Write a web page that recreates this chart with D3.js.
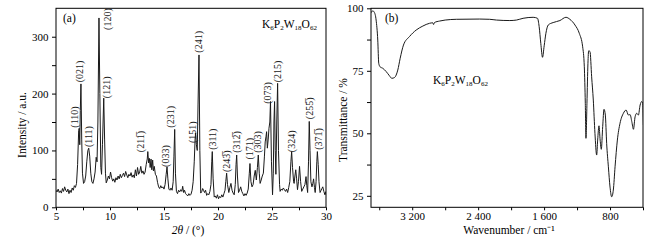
<!DOCTYPE html>
<html>
<head>
<meta charset="utf-8">
<script src="https://cdn.jsdelivr.net/npm/d3@7/dist/d3.min.js"></script>
<style>
body { margin: 0; background: #fff; }
svg { display: block; font-family: "Liberation Serif", "Times New Roman", serif; }
</style>
</head>
<body>
<svg></svg>
<script>
// XRD pattern: [2theta, intensity]
var xrdPoints = [
  [5.0,30],[5.1,27],[5.2,32],[5.3,26],[5.4,29],[5.5,25],[5.6,33],[5.7,28],[5.8,36],[5.9,30],
  [6.0,27],[6.1,32],[6.2,24],[6.3,30],[6.4,26],[6.5,34],[6.6,30],[6.7,38],[6.8,35],[6.9,42],
  [7.0,75],[7.1,135],[7.15,139],[7.2,110],[7.25,170],[7.31,217],[7.38,120],[7.45,60],[7.55,42],
  [7.65,45],[7.75,55],[7.85,80],[7.95,100],[8.03,104],[8.12,90],[8.22,60],[8.32,45],[8.42,42],
  [8.52,50],[8.62,62],[8.72,88],[8.8,80],[8.88,150],[8.98,333],[9.06,200],[9.15,70],[9.22,58],
  [9.3,110],[9.42,192],[9.5,120],[9.58,60],[9.65,43],[9.75,48],[9.85,55],[9.95,50],[10.05,62],
  [10.15,52],[10.25,46],[10.35,50],[10.45,44],[10.55,52],[10.65,48],[10.75,55],[10.85,50],
  [10.95,58],[11.05,52],[11.15,56],[11.25,60],[11.35,54],[11.45,63],[11.55,57],[11.65,52],
  [11.75,58],[11.85,55],[11.95,61],[12.05,53],[12.15,57],[12.25,52],[12.35,66],[12.45,55],
  [12.55,70],[12.65,58],[12.75,62],[12.85,72],[12.95,60],[13.05,64],[13.15,58],[13.25,62],
  [13.35,75],[13.45,85],[13.5,98],[13.58,78],[13.65,86],[13.72,70],[13.8,85],[13.87,66],
  [13.95,83],[14.02,64],[14.1,72],[14.2,58],[14.3,55],[14.4,44],[14.5,36],[14.6,33],[14.7,38],
  [14.8,34],[14.9,36],[15.0,32],[15.1,40],[15.2,58],[15.28,71],[15.36,50],[15.45,32],[15.55,30],
  [15.65,34],[15.75,30],[15.85,45],[15.92,90],[15.99,137],[16.06,60],[16.15,28],[16.25,24],
  [16.35,30],[16.45,27],[16.55,31],[16.65,28],[16.73,37],[16.82,26],[16.9,30],[17.0,24],
  [17.1,22],[17.2,20],[17.3,24],[17.4,21],[17.5,23],[17.6,30],[17.7,45],[17.8,80],[17.88,120],
  [17.93,131],[18.0,110],[18.08,100],[18.15,180],[18.24,268],[18.32,100],[18.4,25],[18.5,28],
  [18.58,33],[18.66,30],[18.75,26],[18.85,30],[18.95,21],[19.05,24],[19.15,22],[19.25,28],
  [19.35,40],[19.42,80],[19.47,98],[19.55,50],[19.65,18],[19.75,20],[19.85,16],[19.95,22],
  [20.05,15],[20.15,19],[20.25,17],[20.35,22],[20.45,18],[20.55,24],[20.65,30],[20.72,45],
  [20.8,60],[20.88,40],[21.0,26],[21.1,35],[21.2,42],[21.3,30],[21.4,25],[21.5,22],[21.6,40],
  [21.67,75],[21.73,92],[21.8,55],[21.9,26],[22.0,30],[22.1,36],[22.2,28],[22.3,24],[22.4,20],
  [22.5,24],[22.6,21],[22.7,25],[22.8,32],[22.9,60],[22.96,77],[23.05,45],[23.15,36],[23.25,40],
  [23.35,55],[23.45,65],[23.55,48],[23.65,70],[23.73,92],[23.82,60],[23.9,42],[24.0,48],
  [24.1,55],[24.2,60],[24.3,90],[24.37,115],[24.45,125],[24.5,133],[24.57,104],[24.65,120],
  [24.72,139],[24.8,150],[24.86,186],[24.95,80],[25.05,22],[25.12,60],[25.18,150],[25.24,186],
  [25.3,100],[25.36,58],[25.44,150],[25.52,218],[25.6,100],[25.7,40],[25.75,28],[25.85,32],
  [25.95,30],[26.05,34],[26.15,31],[26.25,28],[26.35,32],[26.45,26],[26.55,35],[26.65,45],
  [26.75,80],[26.82,98],[26.9,70],[27.0,45],[27.05,42],[27.12,55],[27.2,66],[27.28,50],
  [27.36,31],[27.45,45],[27.55,72],[27.65,45],[27.75,28],[27.85,32],[27.95,36],[28.05,40],
  [28.15,54],[28.22,38],[28.3,26],[28.38,80],[28.45,151],[28.52,100],[28.6,45],[28.7,36],
  [28.78,42],[28.85,50],[28.93,35],[29.0,26],[29.08,45],[29.15,80],[29.2,98],[29.28,75],
  [29.35,45],[29.45,26],[29.55,30],[29.62,33],[29.7,36],[29.8,28],[29.9,22],[30.0,28]
];

// peak labels: [text, 2theta, intensity at label foot]
var peakLabels = [
  ["(110)",6.67,140],["(021)",7.22,220],["(111)",7.99,106],["(120)",9.79,312],
  ["(121)",9.69,192],["(211\u0305)",12.84,97],["(033)",15.16,71],["(231)",15.56,140],
  ["(151)",17.62,113],["(241)",18.18,272],["(311)",19.47,101],["(243\u0305)",20.81,62],
  ["(312\u0305)",21.67,96],["(171)",22.9,84],["(303)",23.64,96],["(073)",24.56,182],
  ["(215)",25.49,220],["(324)",26.82,97],["(255\u0305)",28.43,155],["(371\u0305)",29.29,101]
];

var xrdTicks = [5, 10, 15, 20, 25, 30];
var xrdMinorTicks = [7.5, 12.5, 17.5, 22.5, 27.5];
var intensityTicks = [0, 100, 200, 300];
var intensityMinorTicks = [50, 150, 250];

// IR spectrum: [wavenumber, transmittance]
var irPoints = [
  [3710,98],[3690,98.6],[3679,99],[3660,98.4],[3638,95.3],[3618,87.3],[3606,78],[3590,76.6],
  [3557,76],[3516,74.7],[3476,73],[3448,72],[3415,72.3],[3375,75.3],[3346,80],[3306,85.3],
  [3233,88.7],[3152,91.3],[3071,92.9],[2990,94],[2950,94.2],[2941,93.5],[2930,94.3],[2868,94.9],
  [2800,95.3],[2665,95.6],[2381,95.7],[2260,95.6],[2178,95.3],[2016,95.1],[1935,95.3],[1855,96],
  [1733,96.4],[1680,96],[1660,92.7],[1640,86],[1619,80.4],[1599,85],[1578,90],[1550,93.3],
  [1490,94.3],[1408,95.1],[1335,96.4],[1287,95.6],[1225,93.3],[1173,90],[1132,84.6],[1112,76.6],
  [1100,62],[1092,48],[1080,62],[1068,78],[1059,83],[1043,82.7],[1023,72.6],[1003,63.3],
  [983,50],[962,41.3],[950,47.3],[934,53],[920,47.3],[906,43.6],[889,52.7],[873,59.6],
  [857,57.3],[841,46],[820,36.6],[800,28.5],[780,24.6],[760,27.3],[739,36.6],[711,47.3],
  [679,54],[638,58],[605,59.3],[577,57.3],[557,57.5],[536,54.7],[516,51.6],[496,56.6],
  [476,58],[456,57.3],[435,61.3],[415,62.7],[403,62],[395,53.3]
];

var irTicks = [3200, 2400, 1600, 800];
var irMinorTicks = [3600, 2800, 2000, 1200, 400];
var transTicks = [25, 50, 75, 100];
var transMinorTicks = [37.5, 62.5, 87.5];

function formula(g, x, y) {
  var t = g.append("text").attr("x", x).attr("y", y).attr("font-size", 11.5);
  var parts = [["K",""],["6","s"],["P",""],["2","s"],["W",""],["18","s"],["O",""],["62","s"]];
  parts.forEach(function(p) {
    t.append("tspan").text(p[0])
      .attr("font-size", p[1] ? 7 : 11.5)
      .attr("baseline-shift", p[1] ? "-35%" : null);
  });
}

function spaced(d) {
  var s = String(d);
  return s.length > 3 ? s.slice(0, s.length - 3) + " " + s.slice(-3) : s;
}

function init() {
  var svg = d3.select("svg").attr("width", 662).attr("height", 245);

  // ---- panel (a) ----
  var x = d3.scaleLinear().domain([5, 30]).range([56, 326]);
  var y = d3.scaleLinear().domain([0, 350]).range([207.3, 8.3]);

  var ga = svg.append("g");
  ga.append("clipPath").attr("id", "clipa").append("rect")
    .attr("x", 56).attr("y", 8.3).attr("width", 270).attr("height", 199);

  var line = d3.line().x(function(d) { return x(d[0]); }).y(function(d) { return y(d[1]); });
  ga.append("path").datum(xrdPoints)
    .attr("clip-path", "url(#clipa)")
    .attr("fill", "none").attr("stroke", "#1a1a1a").attr("stroke-width", 1)
    .attr("stroke-linejoin", "round")
    .attr("d", line);

  ga.append("g").attr("transform", "translate(0,207.3)")
    .call(d3.axisBottom(x).tickValues(xrdTicks).tickSize(3).tickPadding(1.5))
    .call(styleAxis);
  ga.append("g").attr("transform", "translate(0,207.3)")
    .call(d3.axisBottom(x).tickValues(xrdMinorTicks).tickSize(3).tickFormat(""))
    .call(styleAxis);
  ga.append("g").attr("transform", "translate(56,0)")
    .call(d3.axisLeft(y).tickValues(intensityTicks).tickSize(4).tickPadding(3.5))
    .call(styleAxis);
  ga.append("g").attr("transform", "translate(56,0)")
    .call(d3.axisLeft(y).tickValues(intensityMinorTicks).tickSize(4).tickFormat(""))
    .call(styleAxis);

  ga.append("rect").attr("x", 56).attr("y", 8.3).attr("width", 270).attr("height", 199)
    .attr("fill", "none").attr("stroke", "#000").attr("stroke-width", 1);

  ga.selectAll("text.peak").data(peakLabels).enter().append("text")
    .attr("class", "peak")
    .attr("transform", function(d) { return "translate(" + x(d[1]) + "," + y(d[2]) + ") rotate(-90)"; })
    .attr("dy", "0.35em")
    .attr("font-size", 10)
    .attr("fill", "#222")
    .text(function(d) { return d[0]; });

  ga.append("text").attr("x", 63).attr("y", 21.5).attr("font-size", 11.5).text("(a)");
  formula(ga, 262, 27.5);

  ga.append("text")
    .attr("transform", "translate(26,125) rotate(-90)")
    .attr("text-anchor", "middle").attr("font-size", 11.5)
    .text("Intensity / a.u.");

  var xt = ga.append("text").attr("x", 188).attr("y", 234)
    .attr("text-anchor", "middle").attr("font-size", 11.5);
  xt.append("tspan").attr("font-style", "italic").text("2\u03B8");
  xt.append("tspan").text(" / (\u00B0)");

  // ---- panel (b) ----
  var xb = d3.scaleLinear().domain([3700, 400]).range([371, 643]);
  var yb = d3.scaleLinear().domain([20.4, 100]).range([207.3, 8.3]);

  var gb = svg.append("g");
  gb.append("clipPath").attr("id", "clipb").append("rect")
    .attr("x", 371).attr("y", 8.3).attr("width", 272).attr("height", 199);

  var lineb = d3.line().curve(d3.curveMonotoneX)
    .x(function(d) { return xb(d[0]); }).y(function(d) { return yb(d[1]); });
  gb.append("path").datum(irPoints)
    .attr("clip-path", "url(#clipb)")
    .attr("fill", "none").attr("stroke", "#1a1a1a").attr("stroke-width", 1)
    .attr("d", lineb);

  gb.append("g").attr("transform", "translate(0,207.3)")
    .call(d3.axisBottom(xb).tickValues(irTicks).tickSize(3).tickPadding(1.5).tickFormat(spaced))
    .call(styleAxis);
  gb.append("g").attr("transform", "translate(0,207.3)")
    .call(d3.axisBottom(xb).tickValues(irMinorTicks).tickSize(3).tickFormat(""))
    .call(styleAxis);
  gb.append("g").attr("transform", "translate(371,0)")
    .call(d3.axisLeft(yb).tickValues(transTicks).tickSize(4).tickPadding(3.5))
    .call(styleAxis);
  gb.append("g").attr("transform", "translate(371,0)")
    .call(d3.axisLeft(yb).tickValues(transMinorTicks).tickSize(4).tickFormat(""))
    .call(styleAxis);

  gb.append("rect").attr("x", 371).attr("y", 8.3).attr("width", 272).attr("height", 199)
    .attr("fill", "none").attr("stroke", "#000").attr("stroke-width", 1);

  gb.append("text").attr("x", 385).attr("y", 21.5).attr("font-size", 11.5).text("(b)");
  formula(gb, 433, 84);

  gb.append("text")
    .attr("transform", "translate(347,120) rotate(-90)")
    .attr("text-anchor", "middle").attr("font-size", 11.5)
    .text("Transmittance / %");

  gb.append("text").attr("x", 509).attr("y", 234)
    .attr("text-anchor", "middle").attr("font-size", 11.5)
    .text("Wavenumber / cm\u207B\u00B9");
}

function styleAxis(g) {
  g.select(".domain").remove();
  g.selectAll("line").attr("stroke", "#000");
  g.selectAll("text").attr("font-size", 11).attr("fill", "#000")
    .attr("font-family", "Liberation Serif, Times New Roman, serif");
}

window.onload = init;
</script>
</body>
</html>
